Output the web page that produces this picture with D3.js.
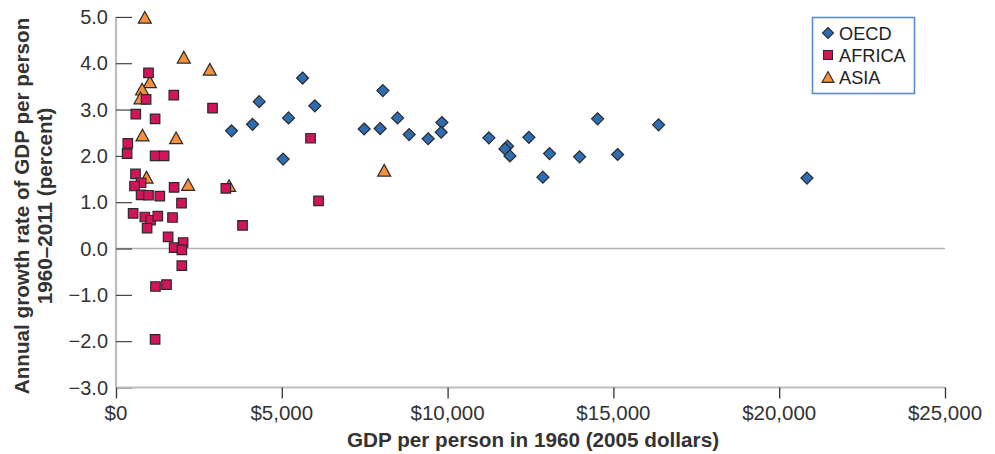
<!DOCTYPE html>
<html>
<head>
<meta charset="utf-8">
<script src="https://cdn.jsdelivr.net/npm/d3@7"></script>
<style>
  html, body { margin: 0; padding: 0; background: #fff; }
  svg { display: block; font-family: "Liberation Sans", Arial, Helvetica, sans-serif; }
</style>
</head>
<body>
<svg id="chart" width="995" height="454"></svg>
<script>
// ---- Data ----
const oecdGdp    = [3484, 4117, 4317, 5040, 5203, 5626, 5997, 7484, 7966, 8048, 8491, 8841, 9414, 9828, 9806, 11245, 11809, 11728, 11879, 12452, 13076, 12874, 13981, 14524, 15127, 16364, 20837];
const oecdGrowth = [2.54, 2.68, 3.17, 1.93, 2.82, 3.68, 3.08, 2.58, 2.59, 3.41, 2.82, 2.46, 2.37, 2.72, 2.51, 2.39, 2.21, 2.15, 2.00, 2.40, 2.05, 1.54, 1.98, 2.80, 2.03, 2.67, 1.52];

const africaGdp    = [980, 908, 1743, 2911, 597, 1179, 356, 335, 1179, 1451, 588, 757, 558, 757, 980, 1321, 1753, 3312, 1976, 516, 869, 1041, 1261, 1704, 938, 3816, 1572, 2024, 1753, 1985, 1985, 1191, 1523, 1179, 5867, 6108];
const africaGrowth = [3.79, 3.22, 3.31, 3.03, 2.90, 2.80, 2.27, 2.05, 2.00, 2.00, 1.61, 1.42, 1.35, 1.16, 1.15, 1.13, 1.32, 1.30, 0.98, 0.76, 0.68, 0.61, 0.70, 0.67, 0.44, 0.50, 0.25, 0.13, 0.02, -0.03, -0.37, -0.82, -0.78, -1.96, 2.38, 1.03];

const asiaGdp    = [869, 2045, 2829, 1020, 787, 739, 799, 1813, 920, 2175, 3412, 8087];
const asiaGrowth = [4.99, 4.13, 3.87, 3.60, 3.44, 3.25, 2.45, 2.39, 1.54, 1.38, 1.36, 1.69];

const xTicks = [0, 5000, 10000, 15000, 20000, 25000];
const yTicks = [-3, -2, -1, 0, 1, 2, 3, 4, 5];
const seriesNames = ["OECD", "AFRICA", "ASIA"];

// ---- Layout ----
const svg = d3.select("#chart");
const x = d3.scaleLinear().domain([0, 25000]).range([116, 945]);
const y = d3.scaleLinear().domain([-3, 5]).range([387.5, 16.9]);

const colors = { OECD: "#2f6db3", AFRICA: "#d3145a", ASIA: "#f5903c" };
const strokeCol = "#2a2a2a";

// custom symbol: upward triangle centered on its bounding box, size = width
const triBox = {
  draw(ctx, w) {
    const h = w * 0.9;
    ctx.moveTo(0, -h / 2);
    ctx.lineTo(w / 2, h / 2);
    ctx.lineTo(-w / 2, h / 2);
    ctx.closePath();
  }
};
// square by side length
const sq = {
  draw(ctx, s) {
    ctx.rect(-s / 2, -s / 2, s, s);
  }
};
// diamond (square rotated 45°), size = full width
const dia = {
  draw(ctx, w) {
    const r = w / 2;
    ctx.moveTo(0, -r);
    ctx.lineTo(r, 0);
    ctx.lineTo(0, r);
    ctx.lineTo(-r, 0);
    ctx.closePath();
  }
};

// zero line
svg.append("line")
  .attr("x1", x(0)).attr("x2", x(25000))
  .attr("y1", y(0)).attr("y2", y(0))
  .attr("stroke", "#b4b4b4").attr("stroke-width", 1.5);

// Y axis (ticks pointing inward)
const yAxis = d3.axisRight(y).tickValues(yTicks).tickSize(16).tickFormat("");
const gy = svg.append("g").attr("transform", `translate(${x(0)},0)`).call(yAxis);
gy.select(".domain").attr("stroke", "#bdbdbd").attr("stroke-width", 2.2).attr("d", `M0,${y(5)}V${y(-3)}`);
gy.selectAll(".tick line").attr("stroke", "#333").attr("stroke-width", 1.1);

// Y labels
svg.append("g").selectAll("text").data(yTicks).join("text")
  .attr("x", 108).attr("y", d => y(d)).attr("dy", "0.36em")
  .attr("text-anchor", "end")
  .attr("font-size", 20).attr("fill", "#333")
  .text(d => (d < 0 ? "\u2212" : "") + Math.abs(d).toFixed(1));

// X axis
const xAxis = d3.axisBottom(x).tickValues(xTicks).tickSize(11).tickFormat("");
const gx = svg.append("g").attr("transform", `translate(0,${y(-3)})`).call(xAxis);
gx.select(".domain").attr("stroke", "#bdbdbd").attr("stroke-width", 2.2).attr("d", `M${x(0)},0H${x(25000)}`);
gx.selectAll(".tick line").attr("stroke", "#333").attr("stroke-width", 1.3);

svg.append("g").selectAll("text").data(xTicks).join("text")
  .attr("x", d => x(d)).attr("y", 420)
  .attr("text-anchor", "middle")
  .attr("font-size", 20.5).attr("fill", "#333")
  .text(d => "$" + d3.format(",")(d));

// Axis titles
svg.append("text")
  .attr("x", 533).attr("y", 447)
  .attr("text-anchor", "middle").attr("font-weight", "bold")
  .attr("font-size", 20.7).attr("fill", "#333")
  .text("GDP per person in 1960 (2005 dollars)");

const yt = svg.append("g").attr("transform", "translate(0,206) rotate(-90)");
yt.append("text").attr("x", 0).attr("y", 29)
  .attr("text-anchor", "middle").attr("font-weight", "bold")
  .attr("font-size", 20.7).attr("fill", "#333")
  .text("Annual growth rate of GDP per person");
yt.append("text").attr("x", 0).attr("y", 52)
  .attr("text-anchor", "middle").attr("font-weight", "bold")
  .attr("font-size", 20.7).attr("fill", "#333")
  .text("1960\u20132011 (percent)");

// ---- Marks ----
const asia = asiaGdp.map((v, i) => ({ gdp: v, g: asiaGrowth[i] }));
const africa = africaGdp.map((v, i) => ({ gdp: v, g: africaGrowth[i] }));
const oecd = oecdGdp.map((v, i) => ({ gdp: v, g: oecdGrowth[i] }));

svg.append("g").selectAll("path").data(asia).join("path")
  .attr("transform", d => `translate(${x(d.gdp)},${y(d.g)})`)
  .attr("d", d3.symbol().type(triBox).size(13))
  .attr("fill", colors.ASIA).attr("stroke", strokeCol).attr("stroke-width", 1.2);

svg.append("g").selectAll("path").data(africa).join("path")
  .attr("transform", d => `translate(${x(d.gdp)},${y(d.g)})`)
  .attr("d", d3.symbol().type(sq).size(9.5))
  .attr("fill", colors.AFRICA).attr("stroke", strokeCol).attr("stroke-width", 1.2);

svg.append("g").selectAll("path").data(oecd).join("path")
  .attr("transform", d => `translate(${x(d.gdp)},${y(d.g)})`)
  .attr("d", d3.symbol().type(dia).size(12))
  .attr("fill", colors.OECD).attr("stroke", strokeCol).attr("stroke-width", 1.2);

// ---- Legend ----
const lg = svg.append("g");
lg.append("rect").attr("x", 812.5).attr("y", 17.5).attr("width", 102).attr("height", 76)
  .attr("fill", "#fff").attr("stroke", "#5a8ccc").attr("stroke-width", 1.6);
const legendShapes = { OECD: [dia, 11], AFRICA: [sq, 9], ASIA: [triBox, 12] };
const lgY = [33, 55, 77];
seriesNames.forEach((name, i) => {
  lg.append("path")
    .attr("transform", `translate(828,${lgY[i]})`)
    .attr("d", d3.symbol().type(legendShapes[name][0]).size(legendShapes[name][1]))
    .attr("fill", colors[name]).attr("stroke", strokeCol).attr("stroke-width", 1.1);
  lg.append("text").attr("x", 839).attr("y", lgY[i]).attr("dy", "0.36em")
    .attr("font-size", 18.2).attr("fill", "#222").text(name);
});
</script>
</body>
</html>
